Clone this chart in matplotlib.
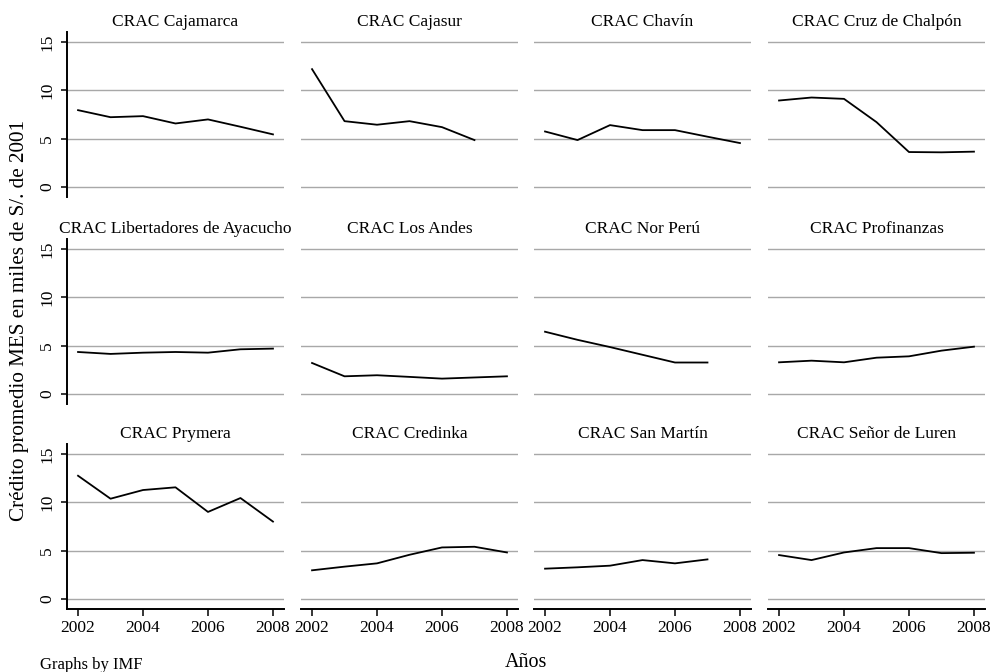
import matplotlib
matplotlib.use('Agg')
import matplotlib.pyplot as plt

plt.rcParams['font.family'] = ['Liberation Serif', 'DejaVu Serif']

# Years on the x axis
years = [2002, 2003, 2004, 2005, 2006, 2007, 2008]

# Panel titles (one per CRAC)
names = ['CRAC Cajamarca', 'CRAC Cajasur', 'CRAC Chavín', 'CRAC Cruz de Chalpón',
         'CRAC Libertadores de Ayacucho', 'CRAC Los Andes', 'CRAC Nor Perú', 'CRAC Profinanzas',
         'CRAC Prymera', 'CRAC Credinka', 'CRAC San Martín', 'CRAC Señor de Luren']

# Average MES credit, thousands of S/. of 2001 (some series stop at 2007)
cajamarca = [7.95, 7.22, 7.33, 6.57, 6.99, 6.23, 5.44]
cajasur = [12.2, 6.81, 6.44, 6.81, 6.19, 4.85]
chavin = [5.74, 4.85, 6.40, 5.88, 5.88, 5.2, 4.54]
cruz_chalpon = [8.95, 9.26, 9.12, 6.71, 3.61, 3.58, 3.65]
libertadores = [4.34, 4.14, 4.27, 4.34, 4.27, 4.62, 4.69]
los_andes = [3.2, 1.82, 1.93, 1.76, 1.58, 1.70, 1.82]
nor_peru = [6.44, 5.6, 4.85, 4.05, 3.25, 3.25]
profinanzas = [3.27, 3.44, 3.27, 3.75, 3.89, 4.48, 4.89]
prymera = [12.76, 10.38, 11.28, 11.56, 9.01, 10.45, 8.01]
credinka = [2.96, 3.34, 3.68, 4.57, 5.33, 5.40, 4.81]
san_martin = [3.13, 3.27, 3.44, 4.02, 3.68, 4.09]
senor_luren = [4.54, 4.02, 4.81, 5.26, 5.26, 4.74, 4.78]

series = [cajamarca, cajasur, chavin, cruz_chalpon,
          libertadores, los_andes, nor_peru, profinanzas,
          prymera, credinka, san_martin, senor_luren]

yticks = [0, 5, 10, 15]
xticks = [2002, 2004, 2006, 2008]

W, H = 994, 672
fig = plt.figure(figsize=(W / 100, H / 100), dpi=100)

# panel placement in pixels
col_left = [67, 301, 534, 768]
row_top = [32, 239, 444]
pw, ph = 217, 165

for i, (name, vals) in enumerate(zip(names, series)):
    r, c = divmod(i, 4)
    ax = fig.add_axes([col_left[c] / W, 1 - (row_top[r] + ph) / H, pw / W, ph / H])
    ax.plot(years[:len(vals)], vals, color='black', lw=1.3, zorder=3)
    ax.set_xlim(2001.66, 2008.34)
    ax.set_ylim(-1.05, 16.05)
    ax.set_yticks(yticks)
    ax.set_xticks(xticks)
    ax.yaxis.grid(True, color='#a8a8a8', lw=1.0)
    ax.set_axisbelow(True)
    for s in ['top', 'right']:
        ax.spines[s].set_visible(False)
    ax.spines['left'].set_visible(c == 0)
    ax.spines['bottom'].set_visible(r == 2)
    ax.spines['left'].set_linewidth(1.4)
    ax.spines['bottom'].set_linewidth(1.4)
    ax.tick_params(axis='y', left=(c == 0), labelleft=(c == 0), length=4.5, width=1.1,
                   labelsize=12.5, pad=4, labelrotation=90)
    ax.tick_params(axis='x', bottom=(r == 2), labelbottom=(r == 2), length=5, width=1.1,
                   labelsize=12.5, pad=3)
    for lab in ax.get_yticklabels():
        lab.set_va('center')
    ax.set_title(name, fontsize=12.5, pad=4.5)

fig.text(20 / W, 1 - 320 / H, 'Crédito promedio MES en miles de S/. de 2001',
         rotation=90, ha='center', va='center', fontsize=15.2)
fig.text(526 / W, 1 - 667 / H, 'Años', ha='center', va='baseline', fontsize=14.5)
fig.text(40 / W, 1 - 669 / H, 'Graphs by IMF', ha='left', va='baseline', fontsize=12)

fig.savefig('out.png', dpi=100)
